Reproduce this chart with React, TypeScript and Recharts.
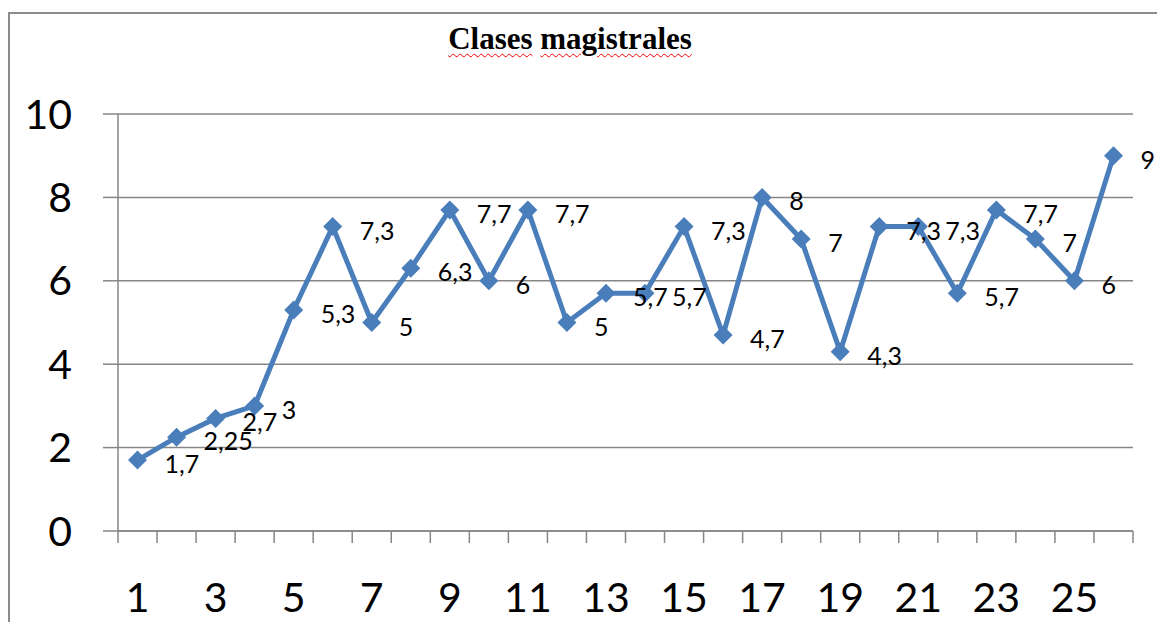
import React from 'react';
import { LineChart, Line, XAxis, YAxis, CartesianGrid, LabelList } from 'recharts';

// sessions (categories) and the mark for each one
const sessions = [1, 2, 3, 4, 5, 6, 7, 8, 9, 10, 11, 12, 13, 14, 15, 16, 17, 18, 19, 20, 21, 22, 23, 24, 25, 26];
const marks = [1.7, 2.25, 2.7, 3, 5.3, 7.3, 5, 6.3, 7.7, 6, 7.7, 5, 5.7, 5.7, 7.3, 4.7, 8, 7, 4.3, 7.3, 7.3, 5.7, 7.7, 7, 6, 9];
const xTickLabels = [1, 3, 5, 7, 9, 11, 13, 15, 17, 19, 21, 23, 25];
const yTicks = [0, 2, 4, 6, 8, 10];

const data = sessions.map((s, i) => ({ session: s, value: marks[i] }));
// tick marks sit between categories
const boundaries = [...sessions.map(s => s - 0.5), sessions[sessions.length - 1] + 0.5];

const BLUE = '#4A7EBB';
const GRID = '#868686';
const FONT = 'Lato, "Open Sans", sans-serif';

const Diamond = (p: any) => {
  const { cx, cy, index } = p;
  if (cx == null || cy == null) return <g key={`d-${index}`} />;
  const r = 9.5;
  return (
    <path
      key={`d-${index}`}
      d={`M${cx},${cy - r} L${cx + r},${cy} L${cx},${cy + r} L${cx - r},${cy} Z`}
      fill={BLUE}
    />
  );
};

const renderLabel = (p: any) => {
  const { x, y, value } = p;
  return (
    <text x={x + 27} y={y + 3} dominantBaseline="central" fontSize={25} fontFamily={FONT} fill="#000">
      {String(value).replace('.', ',')}
    </text>
  );
};

const wavy = { textDecoration: 'underline wavy red', textDecorationThickness: 1, textUnderlineOffset: 4 };

export default function App() {
  return (
    <div
      style={{
        position: 'relative',
        width: 1149,
        height: 608,
        marginTop: 4,
        borderTop: '2px solid #8c8c8c',
        borderLeft: '2px solid #8c8c8c',
        borderRight: '2px solid #8c8c8c',
      }}
    >
      <div
        style={{
          position: 'absolute',
          left: 0,
          top: 9,
          width: 1120,
          textAlign: 'center',
          fontFamily: '"Liberation Serif", "Times New Roman", serif',
          fontWeight: 'bold',
          fontSize: 31,
          lineHeight: '31px',
          color: '#000',
        }}
      >
        <span style={wavy}>Clases</span> <span style={wavy}>magistrales</span>
      </div>
      <LineChart width={1149} height={608} data={data} margin={{ top: 100, right: 26, bottom: 21, left: 0 }}>
        <CartesianGrid vertical={false} stroke={GRID} strokeWidth={1.5} />
        <XAxis
          xAxisId="a_marks"
          dataKey="session"
          type="number"
          domain={[0.5, 26.5]}
          ticks={boundaries}
          interval={0}
          height={1}
          tickSize={12}
          tick={() => <g />}
          stroke={GRID}
          strokeWidth={1.5}
          tickLine={{ stroke: GRID, strokeWidth: 1.5 }}
        />
        <XAxis
          xAxisId="b_labels"
          dataKey="session"
          type="number"
          domain={[0.5, 26.5]}
          ticks={xTickLabels}
          interval={0}
          height={69}
          axisLine={false}
          tickLine={false}
          tickSize={0}
          tickMargin={51}
          tick={{ fill: '#000', fontSize: 41, fontFamily: FONT }}
        />
        <YAxis
          domain={[0, 10]}
          ticks={yTicks}
          interval={0}
          width={108}
          tickSize={15}
          tickMargin={31}
          stroke={GRID}
          strokeWidth={1.5}
          tickLine={{ stroke: GRID, strokeWidth: 1.5 }}
          tick={{ fill: '#000', fontSize: 41, fontFamily: FONT }}
        />
        <Line
          xAxisId="a_marks"
          dataKey="value"
          stroke={BLUE}
          strokeWidth={5}
          dot={Diamond}
          activeDot={false}
          isAnimationActive={false}
        >
          <LabelList dataKey="value" content={renderLabel} />
        </Line>
      </LineChart>
    </div>
  );
}
